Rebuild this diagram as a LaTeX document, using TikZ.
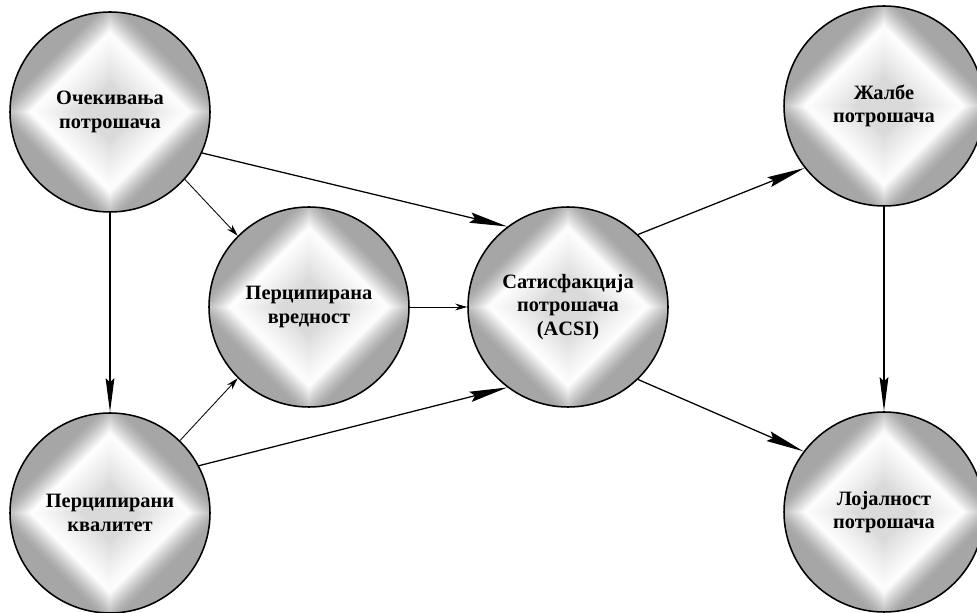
\documentclass[tikz,border=0pt]{standalone}
\usepackage{fontspec}
\setmainfont{Liberation Serif}
\usepackage{tikz}
\usetikzlibrary{positioning, calc}
\usetikzlibrary{arrows.meta}

\definecolor{kruggray}{RGB}{166,166,166}
\definecolor{centgray}{RGB}{216,216,216}

\begin{document}
\begin{tikzpicture}[
        krug/.style={circle, draw=black, line width=1.1pt, fill=kruggray, minimum size=5cm, inner sep=0pt,
            align=center, font=\fontsize{14.5}{16.5}\selectfont\bfseries,
            path picture={
                % glow of the diamond, outside then inside
                \foreach \d [evaluate=\d as \p using {int(max(0,min(100,100*((2.85-\d)/0.85)^1.3)))}] in {2.85,2.825,...,2.0}
                    \fill[white!\p!kruggray] (path picture bounding box.center) ++(\d,0) -- ++(-\d,\d) -- ++(-\d,-\d) -- ++(\d,-\d) -- cycle;
                \foreach \d [evaluate=\d as \p using {int(max(0,min(100,100*((\d-0.7)/1.3)^0.8)))}] in {1.975,1.95,...,0.7}
                    \fill[white!\p!centgray] (path picture bounding box.center) ++(\d,0) -- ++(-\d,\d) -- ++(-\d,-\d) -- ++(\d,-\d) -- cycle;
            }},
        bigarr/.style={-{Stealth[length=0.95cm, width=0.26cm, inset=0.12cm]}, line width=0.9pt},
        vertarr/.style={-{Stealth[length=0.85cm, width=0.22cm, inset=0.1cm]}, line width=0.9pt},
        smallarr/.style={-{Stealth[length=0.3cm, width=0.17cm]}, line width=0.6pt}
    ]
    \useasboundingbox (0,0) rectangle (24.425,15.3);

    \node[krug] (oce) at (2.75,12.5) {Очекивања\\потрошача};
    \node[krug] (kval) at (2.75,2.475) {Перципирани\\квалитет};
    \node[krug] (vred) at (7.725,7.625) {Перципирана\\вредност};
    \node[krug] (sat) at (14.2,7.625) {Сатисфакција\\потрошача\\(ACSI)};
    \node[krug] (zal) at (22.1,12.65) {Жалбе\\потрошача};
    \node[krug] (loj) at (22.1,2.5) {Лојалност\\потрошача};

    \draw[vertarr] (oce) -- (kval);
    \draw[smallarr] (oce.-42) -- (vred.135);
    \draw[bigarr] (oce.-24) -- (sat.127);
    \draw[smallarr] (kval.46) -- (vred.-135);
    \draw[bigarr] (kval.28) -- (sat.-127);
    \draw[smallarr] (vred) -- (sat);
    \draw[bigarr] (sat.46) -- (zal.-142);
    \draw[bigarr] (sat.-46) -- (loj.143);
    \draw[vertarr] (zal) -- (loj);
\end{tikzpicture}
\end{document}
